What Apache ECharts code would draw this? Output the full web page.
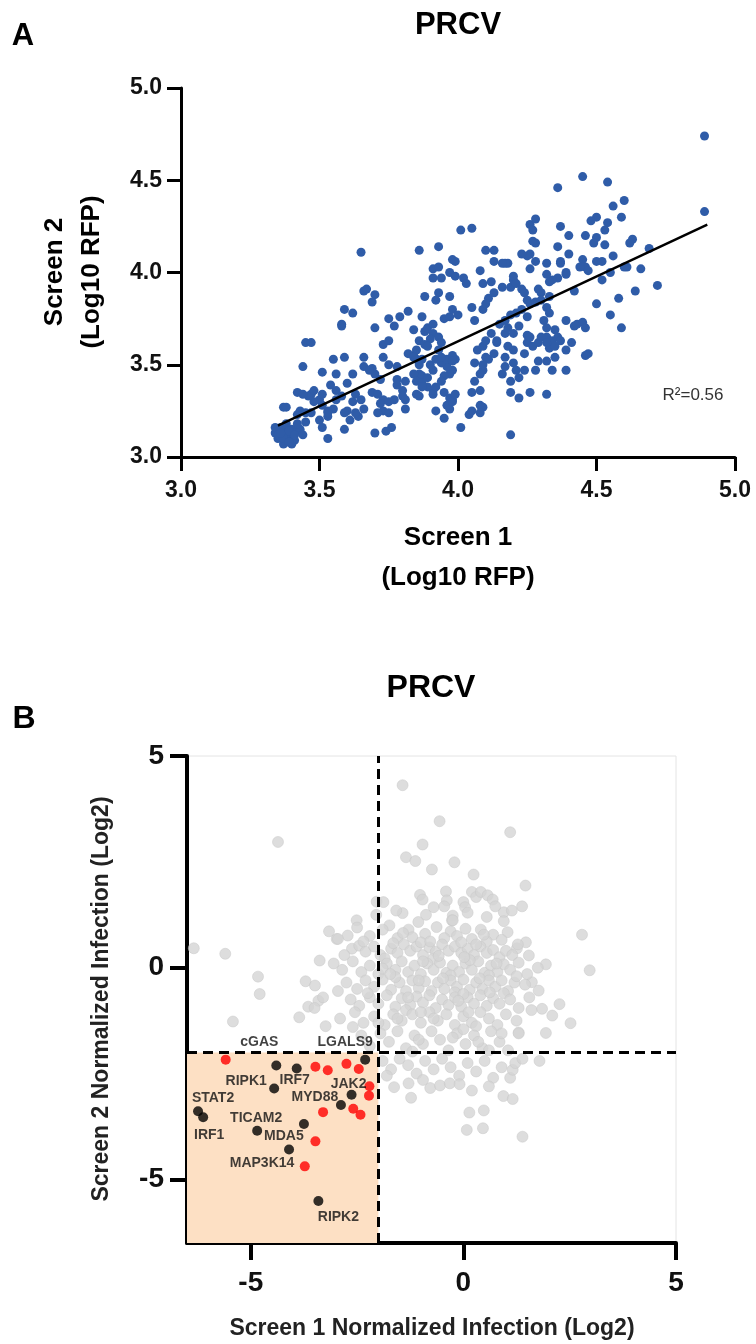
<!DOCTYPE html>
<html>
<head>
<meta charset="utf-8">
<script src="https://cdn.jsdelivr.net/npm/echarts@6/dist/echarts.min.js"></script>
<style>
html,body{margin:0;padding:0;background:#fff;}
#main{width:756px;height:1344px;}
</style>
</head>
<body>
<div id="main"></div>
<script>
// ---- panel A : screen 1 vs screen 2 (log10 RFP)
var screenPts = [
[4.89,4.74],[4.89,4.33],[4.45,4.52],[4.54,4.49],[4.36,4.46],[4.60,4.39],[4.56,4.36],[4.59,4.30],[4.54,4.27],[4.50,4.30],
[4.48,4.28],[4.37,4.25],[4.46,4.20],[4.40,4.20],[4.53,4.23],[4.50,4.19],[4.49,4.16],[4.53,4.15],[4.56,4.09],[4.63,4.18],
[4.62,4.16],[4.69,4.13],[4.61,4.03],[4.60,4.03],[4.66,4.02],[4.64,3.90],[4.72,3.93],[4.58,3.86],[4.55,3.77],[4.59,3.70],
[4.50,3.83],[4.52,3.96],[4.55,4.00],[4.50,4.06],[4.52,4.06],[4.45,4.07],[4.46,4.03],[4.44,4.03],[4.47,4.01],[4.42,3.90],
[4.39,4.00],[4.39,3.99],[4.40,4.10],[4.36,4.14],[4.37,4.06],[4.37,4.05],[4.36,3.97],[4.34,3.96],[4.32,3.99],[4.33,3.95],
[4.32,4.05],[4.28,4.16],[4.27,4.17],[4.26,4.26],[4.28,4.29],[4.27,4.23],[4.26,4.10],[4.25,4.09],[4.23,4.10],[4.28,4.06],
[4.26,4.02],[4.18,4.05],[4.17,4.05],[4.16,4.05],[4.13,4.06],[4.10,4.12],[4.13,4.12],[4.08,4.01],[4.05,4.24],[4.01,4.23],
[3.98,4.07],[3.99,4.06],[3.93,4.14],[3.86,4.12],[3.91,4.02],[3.93,4.03],[3.97,4.00],[3.99,3.98],[4.02,3.97],[4.03,3.94],
[3.94,3.97],[3.91,3.97],[3.65,4.11],[3.66,3.90],[3.67,3.91],[3.70,3.88],[3.69,3.84],[3.59,3.80],[3.62,3.78],[3.58,3.72],
[3.58,3.71],[3.45,3.62],[3.47,3.62],[3.44,3.49],[3.51,3.46],[3.56,3.45],[3.55,3.53],[3.59,3.54],[3.70,3.70],[3.75,3.75],
[3.77,3.71],[3.79,3.76],[3.82,3.79],[3.88,3.87],[3.93,3.89],[3.97,3.87],[3.92,3.85],[3.87,3.76],[3.84,3.69],[3.88,3.68],
[3.89,3.70],[3.91,3.72],[3.91,3.67],[3.95,3.75],[3.97,3.76],[3.98,3.80],[4.00,3.77],[4.05,3.81],[4.06,3.74],[4.09,3.80],
[4.11,3.86],[4.13,3.89],[4.10,3.83],[4.09,3.94],[4.12,3.95],[4.16,3.92],[4.19,3.92],[4.20,3.96],[4.20,3.98],[4.21,3.94],
[4.23,3.91],[4.24,3.89],[4.25,3.85],[4.26,3.83],[4.28,3.84],[4.29,3.91],[4.30,3.89],[4.30,3.85],[4.33,3.87],[4.32,3.81],
[4.33,3.78],[4.31,3.74],[4.32,3.70],[4.32,3.65],[4.34,3.63],[4.35,3.69],[4.33,3.59],[4.35,3.60],[4.36,3.65],[4.37,3.63],
[4.39,3.74],[4.42,3.71],[4.43,3.72],[4.45,3.73],[4.46,3.70],[4.41,3.62],[4.39,3.58],[4.35,3.54],[4.34,3.47],[4.46,3.55],
[4.47,3.56],[4.39,3.47],[4.29,3.52],[4.32,3.52],[4.28,3.47],[4.26,3.35],[4.32,3.34],[4.22,3.32],[4.19,3.35],[4.19,3.41],
[4.19,3.12],[4.24,3.56],[4.25,3.62],[4.27,3.60],[4.29,3.62],[4.25,3.66],[4.26,3.65],[4.30,3.65],[4.32,3.62],[4.20,3.51],
[4.21,3.47],[4.24,3.47],[4.22,3.43],[4.17,3.49],[4.16,3.45],[4.18,3.60],[4.20,3.58],[4.17,3.54],[4.14,3.62],[4.07,3.58],
[4.09,3.60],[4.10,3.54],[4.11,3.53],[4.13,3.56],[4.09,3.47],[4.08,3.45],[4.09,3.50],[4.06,3.51],[4.10,3.63],[4.12,3.67],
[4.14,3.63],[4.17,3.67],[4.18,3.70],[4.15,3.72],[4.17,3.74],[4.19,3.77],[4.21,3.78],[4.23,3.80],[4.25,3.76],[4.22,3.71],
[4.20,3.67],[4.06,3.41],[4.05,3.35],[4.08,3.36],[4.04,3.23],[4.05,3.25],[4.08,3.28],[4.09,3.27],[4.08,3.24],[4.01,3.16],
[3.98,3.47],[3.97,3.45],[3.96,3.49],[3.94,3.51],[3.96,3.53],[3.99,3.53],[3.95,3.44],[3.94,3.41],[3.95,3.35],[3.97,3.32],
[3.98,3.31],[3.97,3.26],[3.92,3.25],[3.95,3.21],[3.91,3.34],[3.91,3.36],[3.92,3.38],[3.89,3.38],[3.86,3.50],[3.87,3.53],
[3.85,3.53],[3.84,3.55],[3.82,3.56],[3.86,3.45],[3.87,3.44],[3.84,3.45],[3.85,3.41],[3.87,3.40],[3.89,3.43],[3.91,3.47],
[3.90,3.50],[3.92,3.53],[3.94,3.54],[3.98,3.55],[3.93,3.58],[3.90,3.64],[3.93,3.65],[3.94,3.62],[3.86,3.63],[3.88,3.61],
[3.89,3.60],[3.85,3.58],[3.84,3.54],[3.78,3.49],[3.78,3.42],[3.81,3.41],[3.80,3.36],[3.81,3.26],[3.77,3.31],[3.78,3.39],
[3.73,3.31],[3.75,3.30],[3.72,3.42],[3.70,3.45],[3.69,3.48],[3.66,3.54],[3.66,3.49],[3.68,3.47],[3.75,3.50],[3.73,3.54],
[3.73,3.61],[3.75,3.63],[3.69,3.35],[3.71,3.34],[3.72,3.29],[3.73,3.25],[3.75,3.24],[3.71,3.24],[3.76,3.16],[3.64,3.22],
[3.66,3.26],[3.65,3.31],[3.63,3.34],[3.62,3.30],[3.60,3.25],[3.63,3.24],[3.61,3.20],[3.59,3.24],[3.62,3.45],[3.60,3.40],
[3.56,3.36],[3.58,3.33],[3.56,3.31],[3.55,3.26],[3.53,3.25],[3.53,3.22],[3.51,3.28],[3.50,3.31],[3.48,3.30],[3.47,3.34],
[3.46,3.33],[3.48,3.36],[3.51,3.34],[3.54,3.39],[3.42,3.35],[3.44,3.34],[3.37,3.27],[3.43,3.25],[3.45,3.24],[3.47,3.24],
[3.45,3.19],[3.50,3.20],[3.51,3.16],[3.53,3.10],[3.59,3.15],[3.53,3.24],[3.42,3.23],[3.70,3.13],[3.74,3.14],[3.85,3.34],
[3.86,3.33],[3.87,3.38],[3.80,3.33],[3.81,3.31],[3.96,3.28],[3.98,3.30],[3.99,3.34],[3.98,3.52],
[3.34,3.13],[3.36,3.15],[3.37,3.15],[3.38,3.16],[3.40,3.15],[3.35,3.10],[3.36,3.11],[3.38,3.09],[3.39,3.11],[3.40,3.13],
[3.42,3.14],[3.36,3.16],[3.38,3.13],[3.41,3.09],[3.37,3.07],[3.40,3.07],[3.34,3.16],[3.43,3.15],[3.42,3.18],[3.38,3.18],
[3.35,3.12],[3.39,3.14],[3.41,3.12],[3.37,3.10],[3.39,3.08],[3.36,3.13],[3.44,3.12],[3.38,3.27]
];
// linear fit drawn across the data range
var fitLine = [[3.35,3.17],[4.90,4.26]];
var r2Text = 'R\u00b2=0.56';

// ---- panel B : normalized infection (log2)
var bgGenes = [
[-1.43,4.31],[-0.56,3.46],[1.10,3.20],[-4.36,2.97],[-0.96,2.91],[-1.35,2.61],[-1.13,2.52],[-0.21,2.49],[-0.74,2.32],[0.24,2.20],
[1.46,1.94],[-1.02,1.72],[-0.96,1.61],[0.20,1.79],[0.30,1.67],[0.41,1.79],[0.57,1.71],[0.69,1.61],[-0.41,1.80],[-0.39,1.59],
[-0.70,1.43],[0.00,1.55],[0.04,1.43],[1.38,1.45],[0.95,1.31],[1.14,1.35],[-0.25,1.23],[-0.27,1.12],[-1.43,1.29],[-2.04,1.56],
[-1.88,1.55],[-2.51,1.12],[-1.74,1.00],[-1.06,1.08],[-0.63,0.96],[-1.29,0.90],[0.41,0.90],[1.04,0.84],[2.79,0.78],[-3.16,0.86],
[-2.72,0.76],[1.47,0.60],[1.26,0.46],[-6.34,0.46],[-5.60,0.33],[1.54,0.29],[1.94,0.08],[2.97,-0.06],[-4.83,-0.21],[-4.79,-0.62],
[-3.38,0.17],[-3.71,-0.32],[-3.49,-0.42],[-5.42,-1.27],[-3.86,-1.17],[-3.65,-0.92],[-3.41,-0.78],[-3.24,-1.38],[1.85,-0.97],[2.26,-0.86],
[2.09,-1.13],[2.52,-1.31],[1.94,-1.54],[1.30,-1.53],[1.61,-0.34],[1.77,-0.54],[-2.98,0.68],
[-2.50,0.95],[-1.90,0.90],[-0.30,0.86],[0.05,0.92],[0.70,0.78],[-2.20,0.75],[-1.55,0.70],[-1.20,0.72],[-0.90,0.80],[-0.45,0.70],
[-0.15,0.75],[0.20,0.68],[0.55,0.62],[0.90,0.66],[1.28,0.55],[-2.95,0.68],
[-2.62,0.45],[-2.45,0.52],[-2.30,0.38],[-2.10,0.50],[-1.95,0.30],[-1.70,0.45],[-1.55,0.35],[-1.40,0.55],[-1.25,0.40],[-1.10,0.50],
[-0.95,0.30],[-0.80,0.48],[-0.65,0.38],[-0.50,0.55],[-0.35,0.40],[-0.20,0.50],[-0.05,0.35],[0.10,0.45],[0.25,0.30],[0.40,0.50],
[0.55,0.35],[0.70,0.42],[0.85,0.25],[1.00,0.40],[1.15,0.30],[-2.80,0.30],[-1.85,0.22],[-0.70,0.22],[0.30,0.55],[-1.00,0.60],
[-3.05,0.10],[-2.85,-0.05],[-2.60,0.15],[-2.40,-0.10],[-2.20,0.05],[-2.00,-0.15],[-1.80,0.10],[-1.60,-0.05],[-1.45,0.15],[-1.30,-0.10],
[-1.15,0.05],[-1.00,-0.15],[-0.85,0.10],[-0.70,-0.05],[-0.55,0.12],[-0.40,-0.12],[-0.25,0.05],[-0.10,-0.10],[0.05,0.10],[0.20,-0.05],
[0.35,0.15],[0.50,-0.12],[0.65,0.05],[0.80,-0.10],[0.95,0.08],[1.10,-0.05],[1.30,0.12],[1.50,-0.15],[1.75,0.00],[-1.90,-0.02],
[-0.95,0.15],[0.15,0.18],[0.60,-0.18],[-0.30,-0.18],
[-2.75,-0.35],[-2.50,-0.50],[-2.30,-0.30],[-2.10,-0.45],[-1.90,-0.28],[-1.70,-0.52],[-1.50,-0.35],[-1.35,-0.55],[-1.20,-0.30],[-1.05,-0.48],
[-0.90,-0.32],[-0.75,-0.55],[-0.60,-0.35],[-0.45,-0.50],[-0.30,-0.30],[-0.15,-0.45],[0.00,-0.28],[0.15,-0.52],[0.30,-0.35],[0.45,-0.50],
[0.60,-0.30],[0.75,-0.45],[0.90,-0.30],[1.05,-0.55],[1.20,-0.35],[1.45,-0.40],[-2.95,-0.55],[-1.60,-0.22],[-0.20,-0.58],[0.95,-0.60],
[-2.65,-0.75],[-2.45,-0.90],[-2.20,-0.70],[-2.00,-0.85],[-1.80,-0.65],[-1.60,-0.92],[-1.45,-0.72],[-1.25,-0.88],[-1.10,-0.68],[-0.95,-0.82],
[-0.80,-0.65],[-0.65,-0.95],[-0.50,-0.75],[-0.35,-0.88],[-0.20,-0.70],[-0.05,-0.92],[0.10,-0.70],[0.25,-0.85],[0.40,-0.65],[0.55,-0.90],
[0.70,-0.72],[0.85,-0.85],[1.10,-0.75],[1.30,-0.95],[-1.35,-1.00],[0.00,-0.62],
[-2.90,-1.20],[-2.55,-1.05],[-2.35,-1.30],[-2.10,-1.15],[-1.85,-1.35],[-1.65,-1.10],[-1.45,-1.25],[-1.20,-1.10],[-1.00,-1.30],[-0.80,-1.05],
[-0.60,-1.25],[-0.40,-1.10],[-0.20,-1.35],[0.00,-1.15],[0.20,-1.30],[0.40,-1.05],[0.60,-1.20],[0.80,-1.35],[1.00,-1.10],[1.25,-1.25],
[-1.00,-1.05],[0.30,-1.38],
[-2.40,-1.60],[-2.20,-1.85],[-1.95,-1.55],[-1.75,-1.75],[-1.55,-1.50],[-1.35,-1.90],[-1.15,-1.60],[-0.95,-1.80],[-0.75,-1.50],[-0.55,-1.70],
[-0.35,-1.95],[-0.15,-1.55],[0.05,-1.80],[0.25,-1.60],[0.45,-1.90],[0.65,-1.50],[0.85,-1.75],[1.05,-1.95],[1.30,-1.55],[-1.20,-1.98],
[0.00,-1.45],[0.60,-1.95],
[-1.90,-2.20],[-1.70,-2.40],[-1.50,-2.15],[-1.30,-2.30],[-1.10,-2.50],[-0.90,-2.20],[-0.70,-2.40],[-0.50,-2.15],[-0.30,-2.35],[-0.10,-2.55],
[0.10,-2.25],[0.30,-2.45],[0.50,-2.20],[0.70,-2.60],[0.90,-2.35],[1.10,-2.60],[-1.63,-2.82],[-1.23,-3.07],[-1.29,-2.73],[-0.78,-2.84],
[-0.55,-2.78],[-0.32,-2.73],[-0.09,-2.75],[0.14,-3.42],[0.48,-3.37],[0.08,-3.83],[0.46,-3.79],[1.39,-3.99],[0.94,-3.03],[1.16,-3.10],
[1.16,-2.41],[1.22,-2.25],[1.39,-2.15],[1.79,-2.20],[-0.95,-2.65],[0.20,-2.90],[0.60,-2.80],[-1.80,-2.55],
[-1.42,0.82],[-0.78,0.62],[-0.05,0.60],[0.48,0.78],[-1.65,0.58],[-2.35,0.62],[-0.58,0.28],[0.02,0.25],[0.78,0.10],[-1.72,-0.15],
[-1.05,-0.30],[-0.48,-0.25],[0.38,-0.25],[1.25,-0.20],[-2.25,-0.60],[-1.30,-0.70],[-0.12,-0.78],[0.62,-0.58],[-1.55,-1.20],[-0.70,-1.20],
[0.12,-1.05],[0.90,-1.55],[-1.05,-1.70],[-0.25,-1.65],[0.35,-1.75],[-2.00,-1.30],[1.55,-0.70],[1.60,-1.00],[-2.60,-1.40],[-3.30,-0.70],
[-3.50,-0.95],[-0.88,1.25],[-0.25,1.12],[0.55,1.20],[-1.58,1.35],[0.10,1.30],[0.95,1.10],[-2.05,1.25],[-0.45,1.45],[0.75,1.45]
];
var redGenes = [
[-5.59,-2.17],[-3.48,-2.34],[-3.19,-2.42],[-2.75,-2.27],[-2.46,-2.39],[-2.21,-2.80],
[-2.22,-3.02],[-3.30,-3.41],[-2.59,-3.33],[-2.42,-3.47],[-3.48,-4.10],[-3.73,-4.69]
];
var hitNames = ['cGAS','LGALS9','IRF7','RIPK1','JAK2','MYD88','STAT2','IRF1','TICAM2','MDA5','MAP3K14','RIPK2'];
var hitS1 = [-4.40,-2.31,-3.92,-4.45,-2.63,-2.88,-6.24,-6.12,-4.85,-3.75,-4.10,-3.41];
var hitS2 = [-2.31,-2.17,-2.38,-2.85,-3.00,-3.24,-3.39,-3.53,-3.85,-3.69,-4.29,-5.51];
var cutoff = -2;
var bTicks = [-5, 0, 5];

// label placement (px, from the dot centre)
var labelOffset = {
	cGAS:[-17,-23], LGALS9:[-20,-17], IRF7:[-2,12], RIPK1:[-28,-7], JAK2:[-3,-11], MYD88:[-26,-8],
	STAT2:[15,-13], IRF1:[6,18], TICAM2:[-1,-13], MDA5:[-20,12], MAP3K14:[-27,14], RIPK2:[20,16]
};

var SANS = '"Liberation Sans",Arial,sans-serif';

var hitData = [];
for (var i = 0; i < hitNames.length; i++) {
	hitData.push({
		name: hitNames[i],
		value: [hitS1[i], hitS2[i]],
		label: {offset: labelOffset[hitNames[i]]}
	});
}

// text helper for the graphic layer
function txt(x, y, s, font, rot, fill){
	return {
		type: 'text', x: x, y: y, rotation: rot || 0,
		style: {text: s, font: font, fill: fill || '#000', align: 'center', verticalAlign: 'middle',
			textAlign: 'center', textVerticalAlign: 'middle'}
	};
}

var myChart = echarts.init(document.getElementById('main'));

var option = {
	animation: false,
	backgroundColor: '#fff',
	grid: [
		{left: 181, top: 88, width: 554, height: 369},
		{left: 187, top: 756, width: 489, height: 487, show: true, borderColor: '#e4e4e4', borderWidth: 1, backgroundColor: 'transparent'}
	],
	xAxis: [
		{
			type: 'value', gridIndex: 0, min: 3, max: 5, interval: 0.5,
			axisLine: {onZero: false, lineStyle: {color: '#000', width: 3}},
			axisTick: {length: 14, lineStyle: {color: '#000', width: 3}},
			axisLabel: {margin: 22, color: '#111', fontSize: 23, fontWeight: 'bold', fontFamily: SANS,
				formatter: function (v) { return v.toFixed(1); }},
			splitLine: {show: false}
		},
		{
			type: 'value', gridIndex: 1, min: -6.5, max: 5,
			axisLine: {onZero: false, lineStyle: {color: '#000', width: 4}},
			axisTick: {length: 17, customValues: bTicks, lineStyle: {color: '#000', width: 4}},
			axisLabel: {margin: 26, color: '#111', fontSize: 28, fontWeight: 'bold', fontFamily: SANS, customValues: bTicks},
			splitLine: {show: false}
		}
	],
	yAxis: [
		{
			type: 'value', gridIndex: 0, min: 3, max: 5, interval: 0.5,
			axisLine: {onZero: false, lineStyle: {color: '#000', width: 3}},
			axisTick: {length: 14, lineStyle: {color: '#000', width: 3}},
			axisLabel: {margin: 19, color: '#111', fontSize: 23, fontWeight: 'bold', fontFamily: SANS,
				formatter: function (v) { return v.toFixed(1); }},
			splitLine: {show: false}
		},
		{
			type: 'value', gridIndex: 1, min: -6.5, max: 5,
			axisLine: {onZero: false, lineStyle: {color: '#000', width: 4}},
			axisTick: {length: 17, customValues: bTicks, lineStyle: {color: '#000', width: 4}},
			axisLabel: {margin: 23, color: '#111', fontSize: 28, fontWeight: 'bold', fontFamily: SANS, customValues: bTicks},
			splitLine: {show: false}
		}
	],
	graphic: [
		txt(23, 36, 'A', 'bold 31px ' + SANS),
		txt(458, 25, 'PRCV', 'bold 31px ' + SANS),
		txt(55, 272, 'Screen 2', 'bold 26px ' + SANS, Math.PI / 2),
		txt(92, 272, '(Log10 RFP)', 'bold 26px ' + SANS, Math.PI / 2),
		txt(458, 538, 'Screen 1', 'bold 26px ' + SANS),
		txt(458, 578, '(Log10 RFP)', 'bold 26px ' + SANS),
		txt(693, 395, r2Text, '17px ' + SANS, 0, '#333'),

		txt(24, 719, 'B', 'bold 32px ' + SANS),
		txt(431, 688, 'PRCV', 'bold 32px ' + SANS),
		txt(102, 999, 'Screen 2 Normalized Infection (Log2)', 'bold 23px ' + SANS, Math.PI / 2, '#222'),
		txt(432, 1329, 'Screen 1 Normalized Infection (Log2)', 'bold 23px ' + SANS, 0, '#222')
	],
	series: [
		{
			type: 'scatter', xAxisIndex: 0, yAxisIndex: 0, data: screenPts,
			symbolSize: 9, itemStyle: {color: '#2f5ca8', opacity: 1}, z: 2
		},
		{
			type: 'line', xAxisIndex: 0, yAxisIndex: 0, data: fitLine,
			symbol: 'none', lineStyle: {color: '#000', width: 2.5}, z: 3
		},
		// shaded hit quadrant
		{
			type: 'scatter', xAxisIndex: 1, yAxisIndex: 1, data: [], z: 1,
			markArea: {
				silent: true,
				itemStyle: {color: '#fde0c4'},
				data: [[{xAxis: -6.5, yAxis: -6.5}, {xAxis: cutoff, yAxis: cutoff}]]
			}
		},
		{
			type: 'scatter', xAxisIndex: 1, yAxisIndex: 1, data: bgGenes,
			symbolSize: 11, itemStyle: {color: '#d4d4d4', borderColor: '#c6c6c6', borderWidth: 0.6}, z: 2
		},
		// cutoff lines
		{
			type: 'scatter', xAxisIndex: 1, yAxisIndex: 1, data: [], z: 3,
			markLine: {
				silent: true, symbol: 'none', label: {show: false},
				lineStyle: {color: '#000', width: 3, type: [10, 6]},
				data: [{xAxis: cutoff}, {yAxis: cutoff}]
			}
		},
		{
			type: 'scatter', xAxisIndex: 1, yAxisIndex: 1, data: redGenes,
			symbolSize: 10, itemStyle: {color: '#ff0000'}, z: 4
		},
		{
			type: 'scatter', xAxisIndex: 1, yAxisIndex: 1, data: hitData,
			symbolSize: 10, itemStyle: {color: '#000'}, z: 5,
			label: {show: true, position: 'inside', formatter: '{b}', color: '#111',
				fontSize: 14, fontWeight: 'bold', fontFamily: SANS}
		}
	]
};

myChart.setOption(option);
</script>
</body>
</html>
